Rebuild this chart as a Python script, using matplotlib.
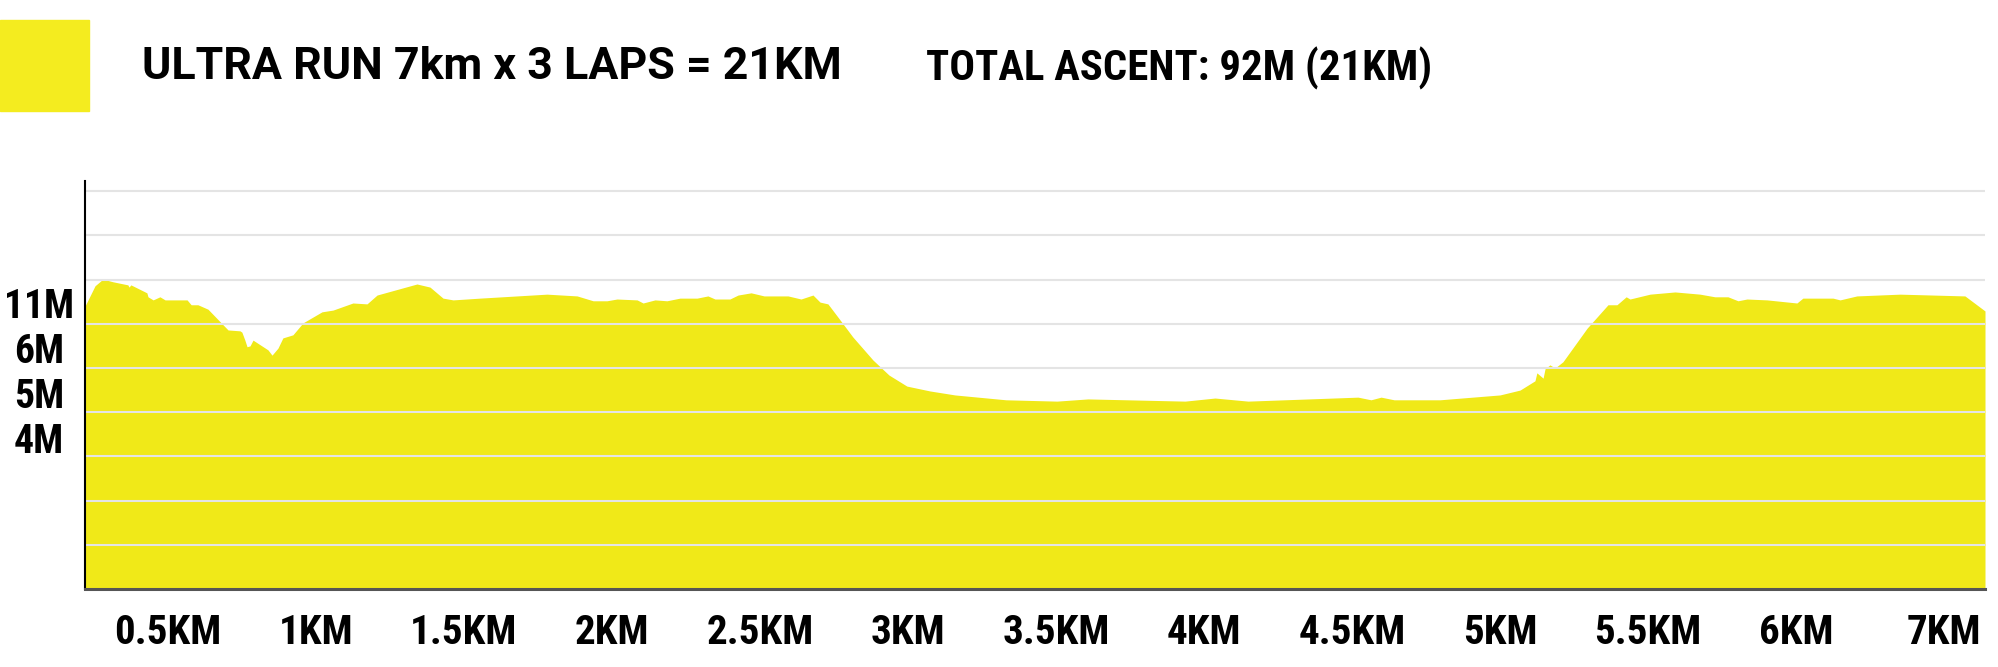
import numpy as np
import matplotlib
matplotlib.use("Agg")
import matplotlib.pyplot as plt

# ---------------- data ----------------
distance_km = [0.000, 0.037, 0.066, 0.103, 0.158, 0.162, 0.169, 0.228, 0.232, 0.251,
               0.276, 0.295, 0.376, 0.391, 0.416, 0.453, 0.527, 0.571, 0.578, 0.589,
               0.597, 0.608, 0.619, 0.674, 0.689, 0.711, 0.729, 0.766, 0.803, 0.873,
               0.914, 0.987, 1.039, 1.076, 1.223, 1.271, 1.319, 1.356, 1.455, 1.702,
               1.813, 1.872, 1.923, 1.960, 2.034, 2.056, 2.100, 2.144, 2.192, 2.255,
               2.295, 2.321, 2.376, 2.406, 2.454, 2.502, 2.590, 2.638, 2.682, 2.708,
               2.737, 2.774, 2.829, 2.903, 2.962, 3.028, 3.113, 3.205, 3.393, 3.581,
               3.695, 4.053, 4.163, 4.285, 4.690, 4.738, 4.775, 4.823, 4.992, 5.213,
               5.287, 5.342, 5.349, 5.372, 5.379, 5.397, 5.416, 5.445, 5.534, 5.611,
               5.644, 5.678, 5.692, 5.766, 5.858, 5.950, 6.005, 6.053, 6.090, 6.123,
               6.197, 6.307, 6.329, 6.440, 6.466, 6.528, 6.687, 6.926, 7.000]
elevation = [6.40, 6.86, 7.01, 6.95, 6.88, 6.83, 6.88, 6.70, 6.61, 6.54,
             6.61, 6.54, 6.54, 6.43, 6.43, 6.33, 5.86, 5.84, 5.81, 5.63,
             5.48, 5.50, 5.63, 5.41, 5.29, 5.45, 5.68, 5.75, 6.02, 6.27,
             6.31, 6.47, 6.45, 6.65, 6.90, 6.83, 6.58, 6.54, 6.58, 6.67,
             6.63, 6.52, 6.52, 6.56, 6.54, 6.47, 6.54, 6.52, 6.58, 6.58,
             6.63, 6.56, 6.56, 6.65, 6.70, 6.63, 6.63, 6.56, 6.65, 6.49,
             6.45, 6.15, 5.70, 5.18, 4.84, 4.59, 4.48, 4.39, 4.28, 4.25,
             4.30, 4.25, 4.32, 4.25, 4.34, 4.28, 4.34, 4.28, 4.28, 4.39,
             4.50, 4.71, 4.89, 4.77, 4.98, 5.07, 5.00, 5.14, 5.90, 6.43,
             6.43, 6.61, 6.56, 6.67, 6.72, 6.67, 6.61, 6.61, 6.52, 6.56,
             6.54, 6.47, 6.58, 6.58, 6.54, 6.63, 6.67, 6.63, 6.29]

x_tick_labels = ["0.5KM", "1KM", "1.5KM", "2KM", "2.5KM", "3KM", "3.5KM",
                 "4KM", "4.5KM", "5KM", "5.5KM", "6KM", "7KM"]
y_tick_labels = ["11M", "6M", "5M", "4M"]

title_text = "ULTRA RUN 7km x 3 LAPS = 21KM"
ascent_text = "TOTAL ASCENT: 92M (21KM)"

# ---------------- style ----------------
YELLOW = "#F0E918"
SQUARE = "#F4EC1F"
GRID = "#E4E4E4"
COND = ["Roboto Condensed", "Liberation Sans Narrow", "Roboto", "DejaVu Sans"]
BOLD = ["Roboto", "DejaVu Sans"]

W, H = 1999, 667
fig = plt.figure(figsize=(W / 100, H / 100), dpi=100)
fig.patch.set_facecolor("white")

ax_left, ax_right, ax_top, ax_bot = 85, 1985, 181, 589
ax = fig.add_axes([ax_left / W, 1 - ax_bot / H, (ax_right - ax_left) / W, (ax_bot - ax_top) / H])

ax.fill_between(distance_km, elevation, 0, color=YELLOW, linewidth=0, zorder=1)

ax.set_xlim(0, 7)
ax.set_ylim(0, 9.23)

# gridlines (minor ticks at integer levels)
ax.set_yticks(np.arange(1, 10), minor=True)
ax.grid(which="minor", axis="y", color=GRID, linewidth=1.5, zorder=2)
ax.set_axisbelow(False)
for gl in ax.yaxis.get_minorticklines():
    gl.set_visible(False)

# y tick labels (placed between gridlines like the original)
n_y = len(y_tick_labels)
y_pos = 6.47 - 1.017 * np.arange(n_y)
ax.set_yticks(y_pos)
ax.set_yticklabels(y_tick_labels, fontfamily=COND, fontweight="bold", fontsize=28.5)
for lab in ax.get_yticklabels():
    lab.set_horizontalalignment("center")
ax.tick_params(axis="y", which="both", length=0, pad=33)

# x tick labels: evenly spaced
n_x = len(x_tick_labels)
step = 148 / (ax_right - ax_left) * 7
start = (168 - ax_left) / (ax_right - ax_left) * 7
x_pos = start + step * np.arange(n_x)
ax.set_xticks(x_pos)
ax.set_xticklabels(x_tick_labels, fontfamily=COND, fontweight="bold", fontsize=29.5)
ax.tick_params(axis="x", length=0, pad=18)

for s in ["top", "right"]:
    ax.spines[s].set_visible(False)
ax.spines["left"].set_color("black")
ax.spines["left"].set_linewidth(1.5)
ax.spines["bottom"].set_color("#555555")
ax.spines["bottom"].set_linewidth(2.2)
ax.spines["left"].set_zorder(3)
ax.spines["bottom"].set_zorder(3)

# header
fig.patches.append(plt.Rectangle((0, 1 - 111 / H), 89 / W, 91 / H,
                                 transform=fig.transFigure, color=SQUARE, zorder=0))
fig.text(142 / W, 1 - 67 / H, title_text, fontfamily=BOLD, fontweight="bold",
         fontsize=32.2, va="center", ha="left")
fig.text(926 / W, 1 - 68 / H, ascent_text, fontfamily=COND, fontweight="bold",
         fontsize=30.8, va="center", ha="left")

fig.savefig("out.png", dpi=100, facecolor="white")
